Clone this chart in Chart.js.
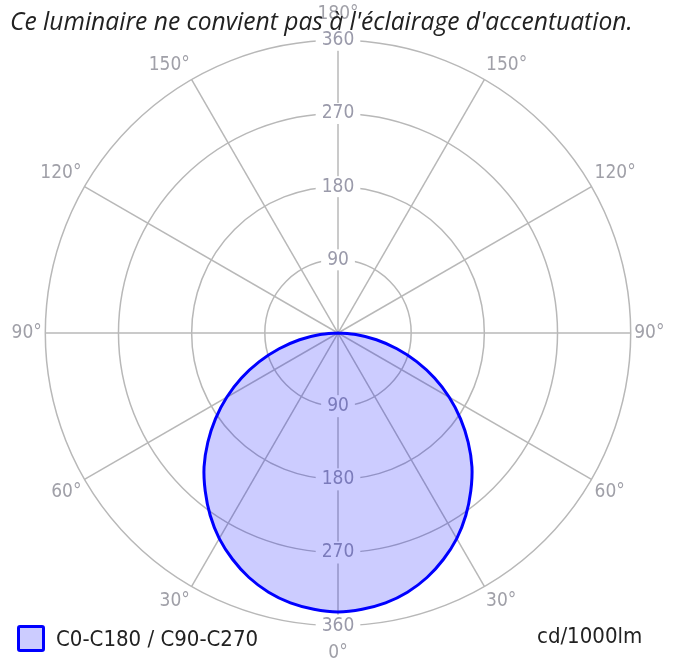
<!doctype html>
<html>
<head>
<meta charset="UTF-8">
<title>Diagramme polaire</title>
<style>
  html, body { margin: 0; padding: 0; background: #fff; }
  #wrap { position: relative; width: 685px; height: 664px; }
  #polar { position: absolute; left: 0; top: 0; }
  #title { position: absolute; left: 10px; top: 4px; font: italic 24.6px "Open Sans", sans-serif; color: #222; white-space: nowrap; }
  #legend { position: absolute; left: 17px; top: 624px; font: 22px "DejaVu Sans Condensed", "DejaVu Sans", sans-serif; color: #222; white-space: nowrap; }
  #legend .box { display: inline-block; width: 22px; height: 21px; border: 3px solid #0000ff; border-radius: 3px; background: #ccccff; vertical-align: middle; margin-right: 11px; }
  #legend span { vertical-align: middle; }
  #unit { position: absolute; left: 537px; top: 623px; font: 22px "DejaVu Sans Condensed", "DejaVu Sans", sans-serif; color: #222; }
</style>
</head>
<body>
<div id="wrap">
  <canvas id="polar" width="685" height="664"></canvas>
  <div id="title">Ce luminaire ne convient pas à l'éclairage d'accentuation.</div>
  <div id="legend"><div class="box"></div><span>C0-C180 / C90-C270</span></div>
  <div id="unit">cd/1000lm</div>
</div>
<script src="https://cdn.jsdelivr.net/npm/chart.js@4.4.1/dist/chart.umd.min.js"></script>
<script>
// gamma angles (degrees from nadir) and intensity, cd/1000lm
const gammaAngles = [0, 5, 10, 15, 20, 25, 30, 35, 40, 45, 50, 55, 60, 65, 70, 75, 80, 85, 90,
                     95, 100, 105, 110, 115, 120, 125, 130, 135, 140, 145, 150, 155, 160, 165, 170, 175, 180];
const intensity = [343, 341, 337, 330, 320, 307, 292, 274, 254, 233, 209, 184, 158, 131, 103, 75, 48, 22, 0,
                   0, 0, 0, 0, 0, 0, 0, 0, 0, 0, 0, 0, 0, 0, 0, 0, 0, 0];

// angle around the diagram, clockwise from the top (180°) : right half C90-C270, left half C0-C180
const spokeLabels = [180, 175, 170, 165, 160, 155, 150, 145, 140, 135, 130, 125, 120, 115, 110, 105, 100, 95,
                     90, 85, 80, 75, 70, 65, 60, 55, 50, 45, 40, 35, 30, 25, 20, 15, 10, 5,
                     0, 5, 10, 15, 20, 25, 30, 35, 40, 45, 50, 55, 60, 65, 70, 75, 80, 85,
                     90, 95, 100, 105, 110, 115, 120, 125, 130, 135, 140, 145, 150, 155, 160, 165, 170, 175];
const ringTicks = [90, 180, 270, 360];

const gridColor = '#b8b8b8';
const labelFont = {family: '"DejaVu Sans Condensed", "DejaVu Sans", sans-serif', size: 19};

const curve = spokeLabels.map(g => intensity[gammaAngles.indexOf(g)]);

// the lower half of the vertical axis gets the same ring labels
const lowerTicks = {
    id: 'lowerTicks',
    beforeDatasetsDraw(chart) {
        const s = chart.scales.r;
        const ctx = chart.ctx;
        ctx.save();
        ctx.font = labelFont.size + 'px ' + labelFont.family;
        ctx.textAlign = 'center';
        ctx.textBaseline = 'middle';
        ringTicks.forEach(v => {
            const y = s.yCenter + s.getDistanceFromCenterForValue(v);
            const w = ctx.measureText(String(v)).width;
            ctx.fillStyle = '#fff';
            ctx.fillRect(s.xCenter - w / 2 - 6, y - 11, w + 12, 22);
            ctx.fillStyle = '#9a9aaa';
            ctx.fillText(String(v), s.xCenter, y);
        });
        ctx.restore();
    }
};

new Chart(document.getElementById('polar'), {
    type: 'radar',
    data: {
        labels: spokeLabels,
        datasets: [{
            label: 'C0-C180 / C90-C270',
            data: curve,
            borderColor: '#0000ff',
            backgroundColor: 'rgba(0,0,255,0.2)',
            borderWidth: 3,
            pointRadius: 0,
            tension: 0.2,
            fill: true
        }]
    },
    options: {
        responsive: false,
        animation: false,
        layout: {padding: {left: 7, right: 16, top: 3, bottom: 0}},
        plugins: {legend: {display: false}, tooltip: {enabled: false}},
        scales: {
            r: {
                min: 0,
                max: 360,
                ticks: {
                    stepSize: 90,
                    color: '#9a9aaa',
                    font: labelFont,
                    backdropColor: '#fff',
                    backdropPadding: {x: 6, y: 1}
                },
                grid: {circular: true, color: gridColor, lineWidth: 1.5},
                angleLines: {
                    color: ctx => spokeLabels[ctx.index] % 30 === 0 ? gridColor : 'transparent',
                    lineWidth: 1.5
                },
                pointLabels: {
                    color: '#a0a0a8',
                    font: labelFont,
                    padding: ctx => ctx.index === 0 ? 4 : (ctx.index === 36 ? 5 : -7),
                    callback: (v) => v % 30 === 0 ? v + '°' : ''
                }
            }
        }
    },
    plugins: [lowerTicks]
});
</script>
</body>
</html>
